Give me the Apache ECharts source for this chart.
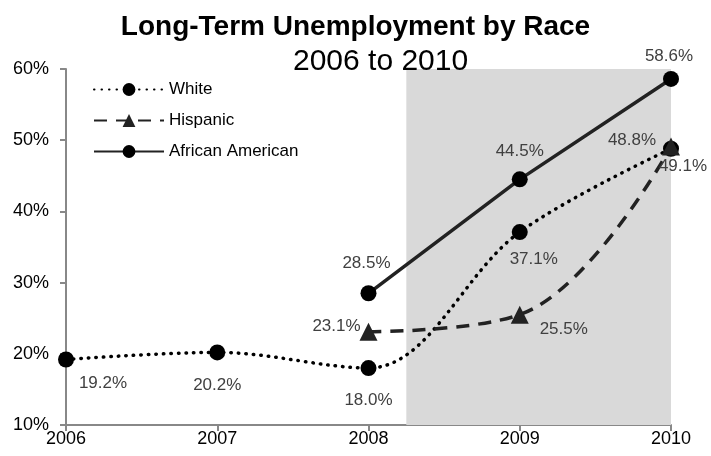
<!DOCTYPE html>
<html>
<head>
<meta charset="utf-8">
<script src="https://cdn.jsdelivr.net/npm/echarts@6/dist/echarts.min.js"></script>
<style>
html,body{margin:0;padding:0;background:#fff;}
#chart{width:711px;height:456px;}
</style>
</head>
<body>
<div id="chart"></div>
<script>
// Long-term unemployment share by race, 2006-2010
const years = [2006, 2007, 2008, 2009, 2010];
const white = [19.2, 20.2, 18.0, 37.1, 48.8];
const hispanic = [null, null, 23.1, 25.5, 49.1];
const africanAmerican = [null, null, 28.5, 44.5, 58.6];
const recessionStart = 2008.25;
const recessionEnd = 2010;

const font = '"Liberation Sans", Arial, sans-serif';
const labelColor = '#404040';

// value labels sit centred on the point, nudged by a pixel offset
function withLabels(vals, offsets) {
  const out = [];
  years.forEach((y, i) => {
    if (vals[i] == null) return;
    out.push({
      value: [y, vals[i]],
      label: {show: true, position: 'inside', align: 'center', verticalAlign: 'middle',
        offset: offsets[i], formatter: vals[i].toFixed(1) + '%'}
    });
  });
  return out;
}

const labelStyle = {fontFamily: font, fontSize: 17, color: labelColor};

const chart = echarts.init(document.getElementById('chart'));
chart.setOption({
  animation: false,
  title: [
    {text: 'Long-Term Unemployment by Race', left: 'center', top: 8,
     textStyle: {fontFamily: font, fontSize: 28, fontWeight: 'bold', color: '#000'}},
    {text: '2006 to 2010', left: 288, top: 42,
     textStyle: {fontFamily: font, fontSize: 30, fontWeight: 'normal', color: '#000'}}
  ],
  legend: {
    left: 88, top: 76, orient: 'vertical', itemGap: 14,
    itemWidth: 70, itemHeight: 16,
    textStyle: {fontFamily: font, fontSize: 17, color: '#000'},
    data: ['White', 'Hispanic', 'African American']
  },
  grid: {left: 66, right: 40, top: 69, bottom: 31},
  xAxis: {
    type: 'value', min: 2006, max: 2010, interval: 1,
    axisLine: {lineStyle: {color: '#888', width: 2}},
    axisTick: {show: true, length: 6, lineStyle: {color: '#888', width: 2}},
    axisLabel: {fontFamily: font, fontSize: 18, color: '#000', margin: 5, formatter: v => String(v)},
    splitLine: {show: false}
  },
  yAxis: {
    type: 'value', min: 10, max: 60, interval: 10,
    axisLine: {show: true, lineStyle: {color: '#888', width: 2}},
    axisTick: {show: true, length: 6, lineStyle: {color: '#888', width: 2}},
    axisLabel: {fontFamily: font, fontSize: 18, color: '#000', margin: 17, formatter: v => v + '%'},
    splitLine: {show: false}
  },
  series: [
    {
      name: 'White', type: 'line', smooth: 0.35,
      symbol: 'circle', symbolSize: 16,
      itemStyle: {color: '#000'},
      lineStyle: {color: '#000', width: 3.5, type: [0.5, 7], cap: 'round'},
      label: labelStyle,
      data: withLabels(white, [[37, 24], [0, 33], [0, 32], [14, 27], [-39, -8]]),
      markArea: {
        silent: true,
        itemStyle: {color: '#d9d9d9'},
        data: [[{xAxis: recessionStart, yAxis: 10}, {xAxis: recessionEnd, yAxis: 60}]]
      },
      z: 3
    },
    {
      name: 'Hispanic', type: 'line', smooth: 0.4,
      symbol: 'triangle', symbolSize: 18,
      itemStyle: {color: '#222'},
      lineStyle: {color: '#222', width: 3.5, type: [13, 9]},
      label: labelStyle,
      data: withLabels(hispanic, [null, null, [-32, -5], [44, 15], [12, 20]]),
      z: 4
    },
    {
      name: 'African American', type: 'line', smooth: false,
      symbol: 'circle', symbolSize: 16,
      itemStyle: {color: '#000'},
      lineStyle: {color: '#222', width: 3.5},
      label: labelStyle,
      data: withLabels(africanAmerican, [null, null, [-2, -30], [0, -28], [-2, -23]]),
      z: 5
    }
  ]
});
</script>
</body>
</html>
